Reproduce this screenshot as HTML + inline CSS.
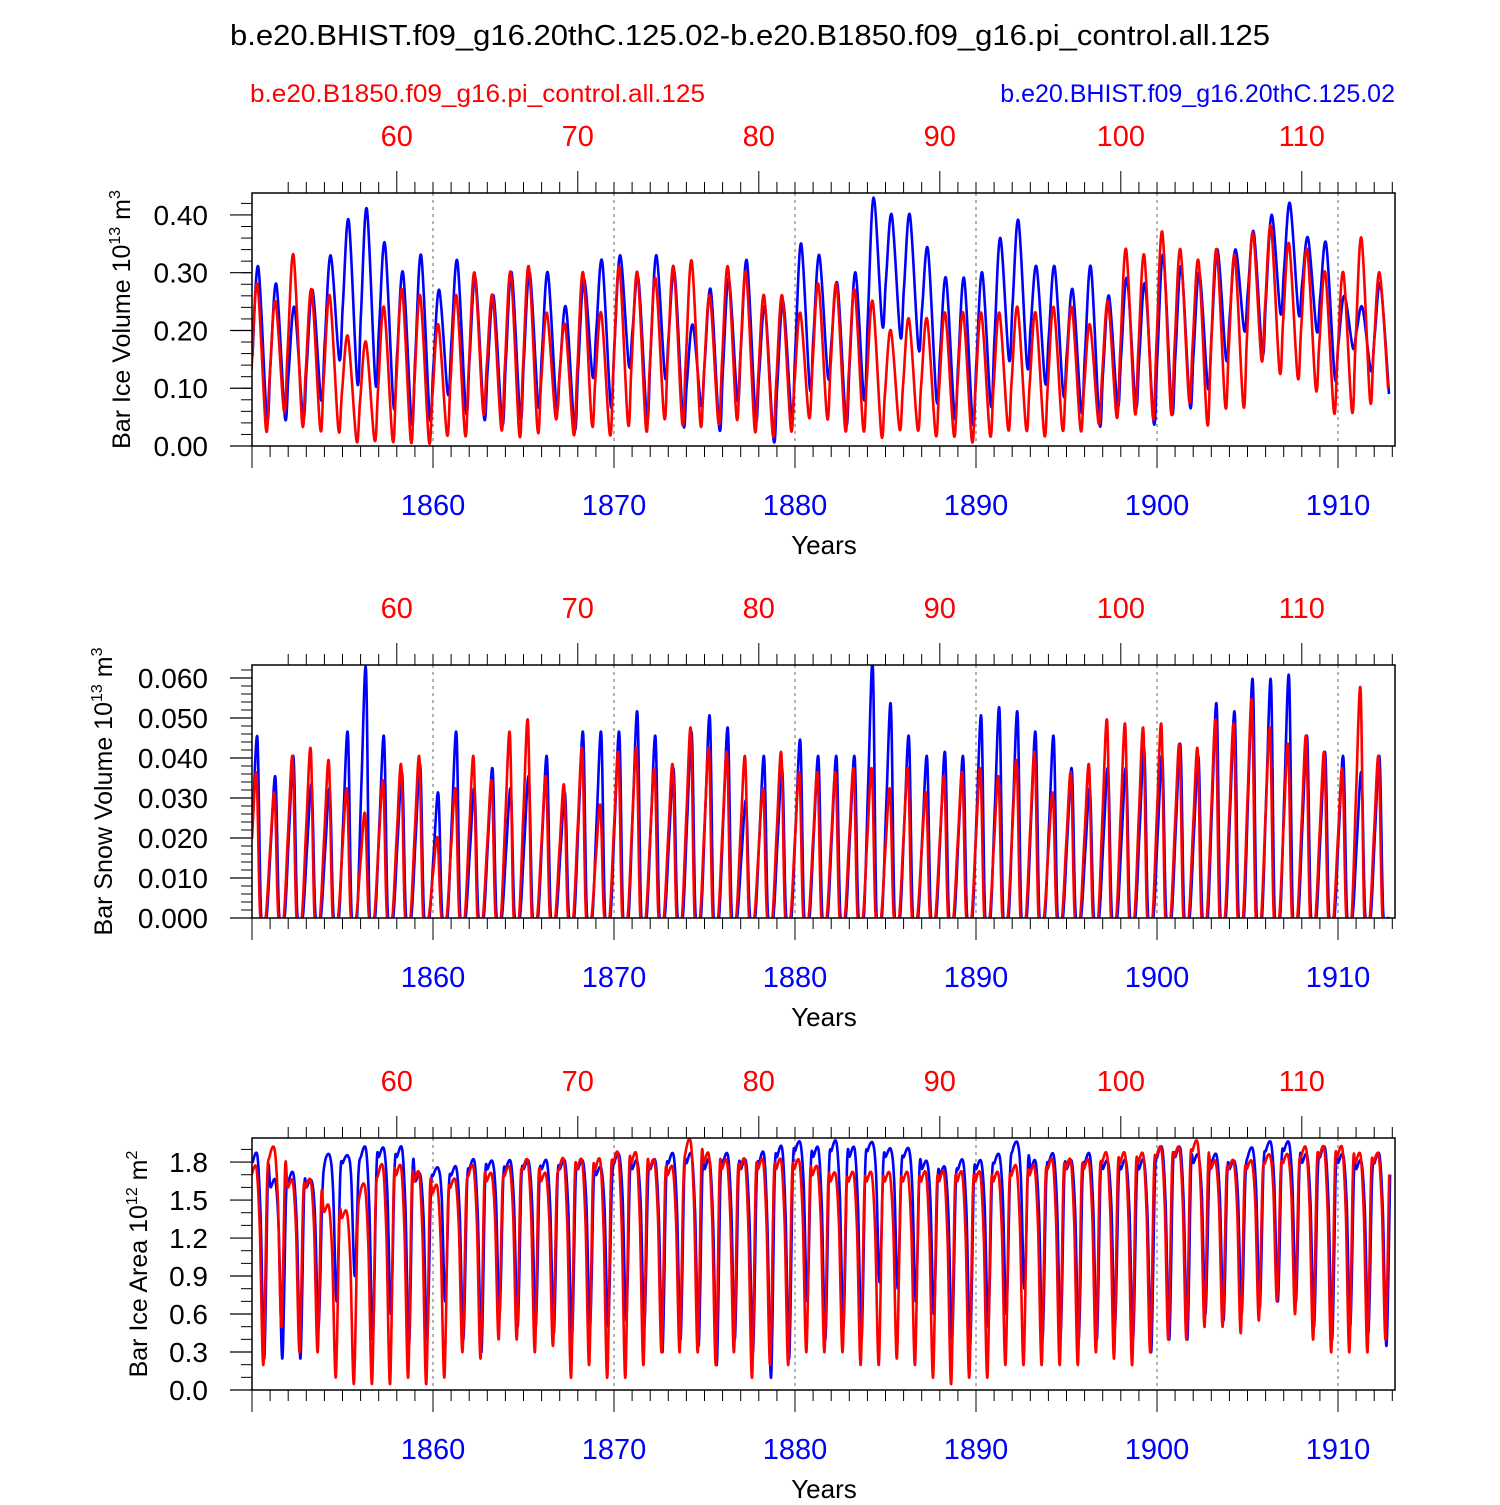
<!DOCTYPE html>
<html><head><meta charset="utf-8"><style>
body{margin:0;background:#fff}
svg text{font-family:"Liberation Sans",sans-serif}
</style></head><body>
<svg id="chart" width="1500" height="1500" viewBox="0 0 1500 1500" xmlns="http://www.w3.org/2000/svg">
<rect width="1500" height="1500" fill="#fff"/>
<text x="750" y="45" font-size="29" text-anchor="middle" textLength="1040" lengthAdjust="spacingAndGlyphs">b.e20.BHIST.f09_g16.20thC.125.02-b.e20.B1850.f09_g16.pi_control.all.125</text>
<text x="250" y="102" font-size="25" fill="#f00" textLength="455" lengthAdjust="spacingAndGlyphs">b.e20.B1850.f09_g16.pi_control.all.125</text>
<text x="1395" y="102" font-size="25" fill="#00f" text-anchor="end">b.e20.BHIST.f09_g16.20thC.125.02</text>
</svg>
<script>
const years=[];for(let y=1850;y<=1912;y++)years.push(y);
const iceVolBluePeak=[0.31,0.28,0.24,0.27,0.33,0.39,0.41,0.35,0.30,0.33,0.27,0.32,0.29,0.26,0.30,0.30,0.30,0.24,0.29,0.32,0.33,0.29,0.33,0.30,0.21,0.27,0.29,0.32,0.24,0.25,0.35,0.33,0.28,0.30,0.43,0.40,0.40,0.34,0.29,0.29,0.30,0.36,0.39,0.31,0.31,0.27,0.31,0.26,0.29,0.28,0.33,0.31,0.30,0.34,0.34,0.37,0.40,0.42,0.36,0.35,0.26,0.24,0.28];
const iceVolBlueLow=[0.05,0.05,0.05,0.08,0.15,0.11,0.11,0.07,0.04,0.05,0.09,0.06,0.05,0.04,0.05,0.07,0.07,0.03,0.12,0.07,0.14,0.05,0.12,0.04,0.07,0.03,0.08,0.05,0.01,0.05,0.10,0.12,0.04,0.08,0.21,0.19,0.17,0.08,0.05,0.04,0.07,0.15,0.14,0.11,0.09,0.06,0.04,0.07,0.07,0.04,0.06,0.07,0.10,0.15,0.20,0.16,0.23,0.23,0.20,0.12,0.17,0.13,0.09];
const iceVolRedPeak=[0.28,0.25,0.33,0.27,0.26,0.19,0.18,0.24,0.27,0.26,0.21,0.26,0.30,0.26,0.30,0.31,0.23,0.21,0.30,0.23,0.31,0.30,0.29,0.31,0.32,0.26,0.31,0.30,0.26,0.26,0.23,0.28,0.28,0.27,0.25,0.20,0.22,0.22,0.23,0.23,0.23,0.23,0.24,0.23,0.24,0.24,0.21,0.25,0.34,0.33,0.37,0.34,0.32,0.34,0.33,0.37,0.38,0.35,0.34,0.30,0.30,0.36,0.30];
const iceVolRedLow=[0.03,0.06,0.04,0.03,0.03,0.01,0.01,0.01,0.01,0.01,0.02,0.02,0.06,0.03,0.02,0.03,0.05,0.02,0.04,0.02,0.04,0.03,0.05,0.04,0.04,0.04,0.05,0.03,0.02,0.03,0.05,0.05,0.03,0.03,0.02,0.03,0.03,0.02,0.02,0.01,0.02,0.03,0.03,0.02,0.03,0.03,0.04,0.05,0.06,0.05,0.06,0.08,0.04,0.07,0.07,0.15,0.13,0.12,0.10,0.06,0.06,0.08,0.10];
const snowBluePeak=[0.045,0.035,0.040,0.033,0.032,0.046,0.062,0.045,0.036,0.038,0.031,0.046,0.032,0.037,0.032,0.035,0.040,0.031,0.046,0.046,0.046,0.051,0.045,0.037,0.046,0.050,0.047,0.029,0.040,0.037,0.044,0.040,0.040,0.040,0.063,0.053,0.045,0.040,0.041,0.040,0.050,0.052,0.051,0.046,0.045,0.037,0.032,0.037,0.037,0.042,0.040,0.043,0.040,0.053,0.051,0.059,0.059,0.060,0.045,0.041,0.040,0.036,0.040];
const snowRedPeak=[0.036,0.031,0.040,0.042,0.039,0.032,0.026,0.034,0.038,0.040,0.020,0.032,0.040,0.034,0.046,0.049,0.035,0.033,0.042,0.028,0.041,0.042,0.037,0.038,0.047,0.042,0.041,0.040,0.032,0.041,0.036,0.036,0.036,0.037,0.037,0.032,0.037,0.031,0.035,0.036,0.037,0.035,0.039,0.041,0.031,0.036,0.038,0.049,0.048,0.047,0.048,0.043,0.042,0.049,0.048,0.054,0.047,0.043,0.045,0.041,0.037,0.057,0.040];
const areaBluePeak=[1.85,1.65,1.70,1.65,1.85,1.85,1.90,1.90,1.90,1.70,1.75,1.75,1.80,1.80,1.80,1.80,1.80,1.80,1.80,1.75,1.85,1.80,1.80,1.85,1.85,1.80,1.85,1.80,1.85,1.90,1.95,1.90,1.95,1.90,1.95,1.90,1.90,1.80,1.75,1.80,1.80,1.85,1.95,1.80,1.85,1.80,1.85,1.80,1.80,1.80,1.90,1.90,1.85,1.85,1.80,1.90,1.95,1.95,1.85,1.90,1.85,1.80,1.85];
const areaBlueLow=[0.25,0.25,0.25,0.50,0.70,0.90,0.40,0.60,0.35,0.40,0.70,0.40,0.30,0.60,0.50,0.50,0.45,0.40,0.50,0.50,0.55,0.50,0.30,0.40,0.35,0.20,0.40,0.30,0.10,0.25,0.70,0.40,0.50,0.40,0.85,0.80,0.70,0.60,0.40,0.35,0.50,0.60,0.80,0.40,0.45,0.40,0.40,0.50,0.40,0.30,0.40,0.40,0.60,0.55,0.60,0.65,0.70,0.70,0.50,0.40,0.50,0.45,0.35];
const areaRedPeak=[1.75,1.90,1.65,1.65,1.45,1.40,1.60,1.75,1.75,1.70,1.60,1.65,1.75,1.70,1.75,1.80,1.70,1.80,1.80,1.80,1.85,1.85,1.80,1.75,1.95,1.85,1.80,1.80,1.80,1.80,1.80,1.75,1.70,1.70,1.70,1.70,1.70,1.70,1.70,1.70,1.70,1.70,1.75,1.75,1.80,1.80,1.80,1.85,1.85,1.85,1.90,1.90,1.95,1.80,1.80,1.80,1.85,1.85,1.90,1.90,1.90,1.85,1.85];
const areaRedLow=[0.20,0.50,0.30,0.30,0.10,0.05,0.05,0.05,0.10,0.05,0.10,0.30,0.25,0.40,0.40,0.30,0.35,0.10,0.20,0.10,0.10,0.20,0.30,0.30,0.30,0.20,0.30,0.10,0.20,0.20,0.30,0.30,0.30,0.20,0.20,0.25,0.20,0.10,0.05,0.10,0.10,0.20,0.20,0.20,0.20,0.20,0.30,0.25,0.20,0.30,0.40,0.40,0.50,0.50,0.45,0.55,0.70,0.60,0.40,0.30,0.30,0.30,0.40];
const yTicks1=[0,0.1,0.2,0.3,0.4], yLabels1=["0.00","0.10","0.20","0.30","0.40"];
const yTicks2=[0,0.01,0.02,0.03,0.04,0.05,0.06], yLabels2=["0.000","0.010","0.020","0.030","0.040","0.050","0.060"];
const yTicks3=[0,0.3,0.6,0.9,1.2,1.5,1.8], yLabels3=["0.0","0.3","0.6","0.9","1.2","1.5","1.8"];
const decades=[1860,1870,1880,1890,1900,1910];
const redLabels=[60,70,80,90,100,110];

const NS="http://www.w3.org/2000/svg";
const svg=document.getElementById('chart');
function mk(tag,attrs,parent){const e=document.createElementNS(NS,tag);for(const k in attrs)e.setAttribute(k,attrs[k]);(parent||svg).appendChild(e);return e;}
const X0=252,X1=1395,PX=18.1;
const xS=t=>X0+(t-1850)*PX;
function smoothPath(P){let d='M'+P[0][0].toFixed(1)+','+P[0][1].toFixed(1);
  for(let i=0;i<P.length-1;i++){const p0=P[i-1]||P[i],p1=P[i],p2=P[i+1],p3=P[i+2]||P[i+1];
    const c1=[p1[0]+(p2[0]-p0[0])/6,p1[1]+(p2[1]-p0[1])/6],c2=[p2[0]-(p3[0]-p1[0])/6,p2[1]-(p3[1]-p1[1])/6];
    d+=' C'+c1[0].toFixed(1)+','+c1[1].toFixed(1)+' '+c2[0].toFixed(1)+','+c2[1].toFixed(1)+' '+p2[0].toFixed(1)+','+p2[1].toFixed(1);}
  return d;}

function panel(idx,top,bottom,ymax,ticks,labels,minorStep,title,sup,series){
  const g=mk('g',{});
  
  
  const yS=v=>bottom-(v/ymax)*(bottom-top);
  const clipId='clip'+idx;
  const cp=mk('clipPath',{id:clipId},g);mk('rect',{x:X0,y:top,width:X1-X0,height:bottom-top},cp);
  decades.forEach(d=>{const l=mk('line',{x1:xS(d),x2:xS(d),y1:top,y2:bottom,stroke:'#666','stroke-width':1,'stroke-dasharray':'3,4'},g);
    });
  series.forEach(s=>{
    const p=mk('path',{d:smoothPath(s.pts.map(q=>[xS(q[0]),yS(q[1])])),fill:'none',stroke:s.color,'stroke-width':2.6,'stroke-linejoin':'round','clip-path':'url(#'+clipId+')'},g);
    
  });
  const fr=mk('rect',{x:X0,y:top,width:X1-X0,height:bottom-top,fill:'none',stroke:'#000','stroke-width':1.5},g);
  
  for(let v=0;v<=ymax+1e-9;v+=minorStep){mk('line',{x1:X0-11,x2:X0,y1:yS(v),y2:yS(v),stroke:'#000','stroke-width':1},g);}
  ticks.forEach((v,i)=>{mk('line',{x1:X0-22,x2:X0,y1:yS(v),y2:yS(v),stroke:'#000','stroke-width':1.2},g);
    const t=mk('text',{x:X0-44,y:yS(v)+10,'font-size':28,'text-anchor':'end'},g);t.textContent=labels[i];
    });
  for(let y=1850;y<=1913;y++){
    mk('line',{x1:xS(y),x2:xS(y),y1:bottom,y2:bottom+(y%10==0?22:11),stroke:'#000','stroke-width':1},g);
    const r=y+2;if(xS(r)<=X1)mk('line',{x1:xS(r),x2:xS(r),y1:top,y2:top-((r-1798)%10==0?22:11),stroke:'#000','stroke-width':1},g);
  }
  decades.forEach(d=>{const t=mk('text',{x:xS(d),y:bottom+69,'font-size':29,fill:'#00f','text-anchor':'middle'},g);t.textContent=d;
    });
  redLabels.forEach(r=>{const t=mk('text',{x:xS(r+1798),y:top-47,'font-size':29,fill:'#f00','text-anchor':'middle'},g);t.textContent=r;
    });
  const xt=mk('text',{x:824,y:bottom+108,'font-size':26,'text-anchor':'middle'},g);xt.textContent='Years';
  
  const cy=(top+bottom)/2;
  const tx=idx==2?112:(idx==3?147:130);
  const yt=mk('text',{x:0,y:0,'font-size':25,'text-anchor':'middle',transform:`translate(${tx},${cy}) rotate(-90)`},g);
  
  yt.appendChild(document.createTextNode(title+' 10'));
  const s1=document.createElementNS(NS,'tspan');s1.setAttribute('font-size','16');s1.setAttribute('dy','-10');s1.textContent=sup;yt.appendChild(s1);
  const s2=document.createElementNS(NS,'tspan');s2.setAttribute('dy','10');s2.textContent=' m';yt.appendChild(s2);
  const s3=document.createElementNS(NS,'tspan');s3.setAttribute('font-size','16');s3.setAttribute('dy','-10');s3.textContent=idx==3?'2':'3';yt.appendChild(s3);
}
function volPts(peak,low,ph){const p=[];for(let i=0;i<years.length;i++){const y=years[i];
  p.push([y+0.02+ph,(low[i-1]!==undefined?low[i-1]:low[i])*0.6+peak[i]*0.4]);p.push([y+0.35+ph,peak[i]]);p.push([y+0.82+ph,low[i]]);}return p;}
function snowPts(peak,ph){const p=[];for(let i=0;i<years.length;i++){const y=years[i];
  p.push([y+0.05+ph,peak[i]*0.55]);p.push([y+0.3+ph,peak[i]]);p.push([y+0.5+ph,0.001]);p.push([y+0.8+ph,0.0]);}return p;}
function areaPts(peak,low,ph){const p=[];for(let i=0;i<years.length;i++){const y=years[i];
  p.push([y+0.02+ph,peak[i]*0.97]);p.push([y+0.3+ph,peak[i]]);p.push([y+0.48+ph,(peak[i]+low[i])/2+0.3]);p.push([y+0.68+ph,low[i]]);p.push([y+0.88+ph,peak[i]*0.92]);}return p;}

panel(1,193,446,0.438,yTicks1,yLabels1,0.02,'Bar Ice Volume','13',[
 {name:'series-blue-ice-volume',color:'#00f',pts:volPts(iceVolBluePeak,iceVolBlueLow,0)},
 {name:'series-red-ice-volume',color:'#f00',pts:volPts(iceVolRedPeak,iceVolRedLow,-0.05)}]);
panel(2,665,918,0.06325,yTicks2,yLabels2,0.002,'Bar Snow Volume','13',[
 {name:'series-blue-snow-volume',color:'#00f',pts:snowPts(snowBluePeak,0)},
 {name:'series-red-snow-volume',color:'#f00',pts:snowPts(snowRedPeak,-0.05)}]);
panel(3,1138,1390,1.99,yTicks3,yLabels3,0.1,'Bar Ice Area','12',[
 {name:'series-blue-ice-area',color:'#00f',pts:areaPts(areaBluePeak,areaBlueLow,0)},
 {name:'series-red-ice-area',color:'#f00',pts:areaPts(areaRedPeak,areaRedLow,-0.05)}]);
</script>
</body></html>
